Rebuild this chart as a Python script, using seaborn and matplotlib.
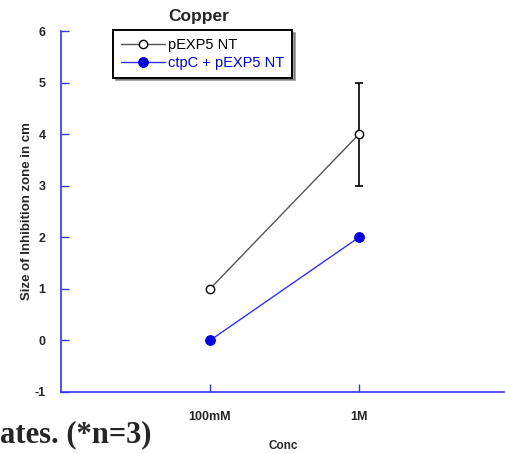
import matplotlib
matplotlib.use("Agg")
import matplotlib.pyplot as plt
import seaborn as sns
import pandas as pd
import numpy as np

conc_labels = ["100mM", "1M"]
conc_pos = [1, 2]
pexp5 = [1, 4]
pexp5_err = [0, 1]
ctpc = [0, 2]
y_ticks = [-1, 0, 1, 2, 3, 4, 5, 6]

sns.set_style("white")
plt.rcParams["font.family"] = ["Liberation Sans", "DejaVu Sans"]

W, H = 506, 454
fig = plt.figure(figsize=(W / 100, H / 100), dpi=100)
ax = fig.add_axes([61 / W, 62 / H, 447 / W, 361 / H])

df1 = pd.DataFrame({"x": conc_pos, "y": pexp5})
df2 = pd.DataFrame({"x": conc_pos, "y": ctpc})

ax.errorbar(conc_pos, pexp5, yerr=pexp5_err, fmt="none", ecolor="black",
            elinewidth=1.2, capsize=3, capthick=1.2, zorder=2)
sns.lineplot(data=df1, x="x", y="y", ax=ax, color="#555555", lw=1,
             marker="o", markersize=6, markerfacecolor="white",
             markeredgecolor="black", markeredgewidth=1,
             label="pEXP5 NT", zorder=3)
sns.lineplot(data=df2, x="x", y="y", ax=ax, color="#3030ff", lw=1,
             marker="o", markersize=7, markerfacecolor="#0000dd",
             markeredgecolor="#0000dd", label="ctpC + pEXP5 NT", zorder=3)

ax.set_xlim(0, 3)
ax.set_ylim(-1, 6)
ax.set_xticks(conc_pos)
ax.set_xticklabels(conc_labels)
ax.set_yticks(y_ticks)
ax.set_yticklabels([str(t) for t in y_ticks])
for s in ["top", "right"]:
    ax.spines[s].set_visible(False)
for s in ["left", "bottom"]:
    ax.spines[s].set_color("#3535ee")
    ax.spines[s].set_linewidth(1.2)
ax.tick_params(axis="both", direction="in", length=6, width=1,
               color="#3535ee", labelsize=9, left=True, bottom=True)
ax.tick_params(axis="y", pad=11)
ax.tick_params(axis="x", pad=14)
for lab in ax.get_xticklabels() + ax.get_yticklabels():
    lab.set_fontweight("heavy")

ax.set_xlabel("")
ax.set_ylabel("Size of Inhibition zone in cm", fontsize=9.5, fontweight="bold",
              labelpad=1)

fig.text(199 / W, 1 - 17 / H, "Copper", ha="center", va="center",
         fontsize=12.5, fontweight="heavy")
fig.text(283 / W, 1 - 446 / H, "Conc", ha="center", va="center",
         fontsize=8.5, fontweight="bold")
fig.text(0 / W, 1 - 435 / H, "ates. (*n=3)", ha="left", va="center",
         fontsize=22, fontweight="bold", family=["Liberation Serif"])

leg = ax.legend(loc="upper left", bbox_to_anchor=(113 / W, 1 - 30 / H),
                bbox_transform=fig.transFigure, borderaxespad=0,
                fancybox=False, shadow=True, frameon=True,
                edgecolor="black", framealpha=1, fontsize=10.5,
                handlelength=3.0, handletextpad=0.2, labelspacing=0.25,
                borderpad=0.55, labelcolor=["black", "#0000dd"])
leg.get_frame().set_linewidth(1.4)

fig.savefig("out.png", dpi=100)
